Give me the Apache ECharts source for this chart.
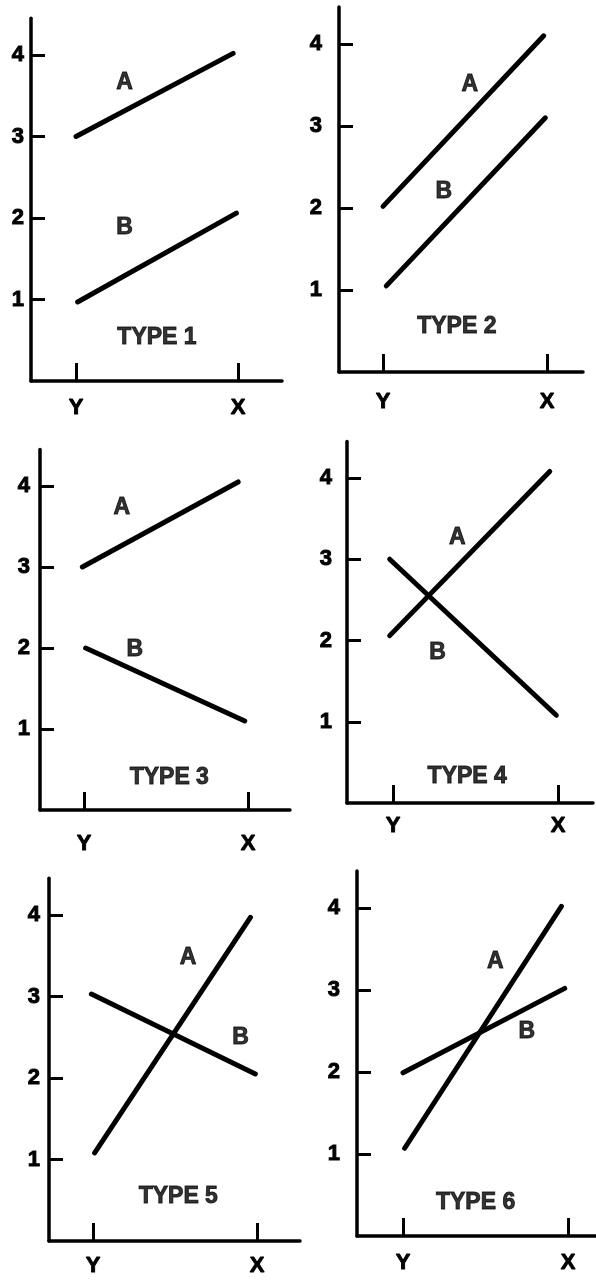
<!DOCTYPE html>
<html>
<head>
<meta charset="utf-8">
<script src="https://cdn.jsdelivr.net/npm/echarts@6/dist/echarts.min.js"></script>
<style>
  html, body { margin: 0; padding: 0; background: #fff; }
  #chart { width: 596px; height: 1285px; }
</style>
</head>
<body>
<div id="chart"></div>
<script>
// x positions: Y = 0, X = 1
const xCats = ['Y', 'X'];
const yTicks = [1, 2, 3, 4];
const typeNames = ['TYPE 1', 'TYPE 2', 'TYPE 3', 'TYPE 4', 'TYPE 5', 'TYPE 6'];

// line A / B end points: [x, value]
const lineA = [
  [[0, 3.0], [0.97, 4.02]],
  [[0, 2.02], [0.98, 4.1]],
  [[-0.01, 3.0], [0.94, 4.05]],
  [[-0.02, 2.06], [0.95, 4.08]],
  [[0.01, 1.08], [0.96, 3.97]],
  [[0.01, 1.07], [0.96, 4.02]]
];
const lineB = [
  [[0.01, 0.97], [0.99, 2.06]],
  [[0.02, 1.05], [0.99, 3.1]],
  [[0.01, 2.0], [0.98, 1.1]],
  [[-0.02, 3.0], [0.99, 1.08]],
  [[-0.01, 3.03], [0.99, 2.05]],
  [[0, 1.99], [0.98, 3.02]]
];

// where the letters and titles sit, in axis units
const labelA = [[0.30, 3.66], [0.53, 3.50], [0.23, 3.73], [0.39, 3.27], [0.58, 3.48], [0.56, 3.34]];
const labelB = [[0.30, 1.88], [0.37, 2.20], [0.31, 1.98], [0.27, 1.85], [0.90, 2.49], [0.75, 2.49]];
const labelType = [[0.50, 0.53], [0.45, 0.55], [0.52, 0.40], [0.45, 0.32], [0.52, 0.54], [0.44, 0.41]];

// panel layout in pixels
const panels = [
  { left: 31, zero: 381, unit: 81.5, yTick: 76, span: 162, end: 282, lm: 7, xm: 16 },
  { left: 339, zero: 372, unit: 82, yTick: 383, span: 164, end: 583, lm: 17, xm: 19 },
  { left: 40, zero: 810, unit: 81, yTick: 84, span: 164, end: 290, lm: 10, xm: 23 },
  { left: 347, zero: 803, unit: 81.25, yTick: 393, span: 165, end: 593, lm: 15, xm: 12 },
  { left: 49, zero: 1241, unit: 81.5, yTick: 93, span: 164, end: 300, lm: 9, xm: 14 },
  { left: 357, zero: 1236, unit: 82, yTick: 403, span: 165, end: 596, lm: 17, xm: 16 }
];
const yMax = 4.45;
const textStyle = {
  color: '#000', fontWeight: 'bold', fontFamily: 'Liberation Sans',
  textBorderColor: '#000', textBorderWidth: 0.9
};

const chart = echarts.init(document.getElementById('chart'));

const grid = [], xAxis = [], yAxis = [], series = [];
panels.forEach((p, i) => {
  grid.push({
    left: p.left,
    top: p.zero - yMax * p.unit,
    width: p.end - p.left,
    height: yMax * p.unit
  });
  xAxis.push({
    type: 'value',
    gridIndex: i,
    min: -(p.yTick - p.left) / p.span,
    max: (p.end - p.yTick) / p.span,
    splitLine: { show: false },
    axisLine: { lineStyle: { color: '#000', width: 3.5 } },
    axisTick: { customValues: [0, 1], inside: true, length: 18, lineStyle: { color: '#000', width: 3 } },
    axisLabel: Object.assign({
      customValues: [0, 1],
      formatter: v => xCats[Math.round(v)],
      margin: p.xm,
      fontSize: 22
    }, textStyle)
  });
  yAxis.push({
    type: 'value',
    gridIndex: i,
    min: 0,
    max: yMax,
    splitLine: { show: false },
    axisLine: { onZero: false, lineStyle: { color: '#000', width: 3.5 } },
    axisTick: { customValues: yTicks, inside: true, length: 14, lineStyle: { color: '#000', width: 3 } },
    axisLabel: Object.assign({
      customValues: yTicks,
      margin: p.lm,
      fontSize: 22
    }, textStyle)
  });
  [lineA[i], lineB[i]].forEach(d => {
    series.push({
      type: 'line',
      xAxisIndex: i, yAxisIndex: i,
      data: d,
      symbol: 'none',
      lineStyle: { color: '#000', width: 5, cap: 'round' }
    });
  });
  series.push({
    type: 'scatter',
    xAxisIndex: i, yAxisIndex: i,
    symbolSize: 1,
    itemStyle: { color: 'rgba(0,0,0,0)' },
    label: Object.assign({
      show: true, position: 'inside', formatter: '{b}',
      fontSize: 23
    }, textStyle),
    data: [
      { name: 'A', value: labelA[i] },
      { name: 'B', value: labelB[i] },
      { name: typeNames[i], value: labelType[i] }
    ]
  });
});

chart.setOption({
  animation: false,
  backgroundColor: '#fff',
  grid: grid,
  xAxis: xAxis,
  yAxis: yAxis,
  series: series
});
</script>
</body>
</html>
